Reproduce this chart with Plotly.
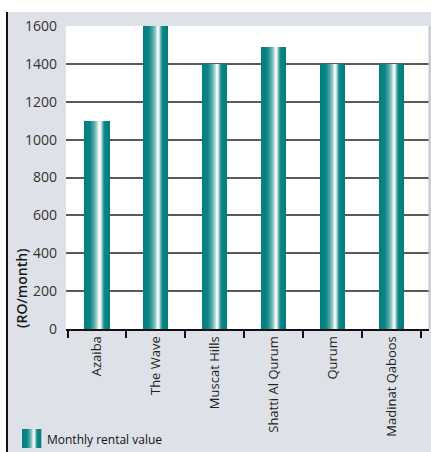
import numpy as np
import plotly.graph_objects as go

# Rental data
areas = ["Azaiba", "The Wave", "Muscat Hills", "Shatti Al Qurum", "Qurum", "Madinat Qaboos"]
rent = [1100, 1600, 1400, 1490, 1400, 1400]
y_ticks = [0, 200, 400, 600, 800, 1000, 1200, 1400, 1600]
series_name = "Monthly rental value"
y_title = "(RO/month)"

W, H = 431, 452
ML, MR, MT, MB = 66, 2, 26, 123
PW, PH = W - ML - MR, H - MT - MB

def px(x):
    return (x - ML) / PW

def py(y):
    return 1 - (y - MT) / PH

TEAL = np.array([0, 126, 126])
WHITE = np.array([255, 255, 255])
# cylinder shading: position across the bar -> amount of white highlight
prof_pos = [0.0, 0.25, 0.40, 0.52, 0.62, 0.68, 0.75, 0.82, 1.0]
prof_val = [0.0, 0.05, 0.30, 0.60, 1.00, 0.80, 0.30, 0.05, 0.0]

def shade(f):
    t = np.interp(f, prof_pos, prof_val)
    c = TEAL + (WHITE - TEAL) * t
    return "rgb(%d,%d,%d)" % tuple(np.round(c).astype(int))

N = 24
BW = 0.41
fig = go.Figure()
for i in range(N):
    f = (i + 0.5) / N
    fig.add_trace(go.Bar(
        x=areas, y=rent,
        width=BW / N * 1.15, offset=-BW / 2 + i * BW / N,
        marker=dict(color=shade(f), line=dict(width=0)),
        showlegend=False, hoverinfo="skip" if i else None,
        name=series_name,
    ))

shapes = [
    # grey panel behind the chart
    dict(type="rect", xref="paper", yref="paper", x0=px(6), x1=px(W + 2), y0=py(H + 2), y1=py(12),
         fillcolor="#dee2e8", line=dict(width=0), layer="below"),
    # white plotting area
    dict(type="rect", xref="paper", yref="paper", x0=0, x1=1, y0=0, y1=1,
         fillcolor="white", line=dict(width=0), layer="below"),
    # dark rule on the left
    dict(type="line", xref="paper", yref="paper", x0=px(7), x1=px(7), y0=py(H + 2), y1=py(12),
         line=dict(color="#111111", width=2)),
    # light rule on the right of the plot
    dict(type="line", xref="paper", yref="paper", x0=px(429.5), x1=px(429.5), y0=0, y1=1,
         line=dict(color="#c4c9cf", width=2)),
]

# legend swatch with the same shading
sx0, sx1, sy0, sy1 = 22, 41, 429, 448
M = 19
for i in range(M):
    f = (i + 0.5) / M
    a = sx0 + (sx1 - sx0) * i / M
    b = sx0 + (sx1 - sx0) * (i + 1) / M
    shapes.append(dict(type="rect", xref="paper", yref="paper", x0=px(a), x1=px(b + 0.3),
                       y0=py(sy1), y1=py(sy0), fillcolor=shade(f), line=dict(width=0)))

annotations = [
    dict(text=series_name, xref="paper", yref="paper", x=px(45), y=py(439),
         xanchor="left", yanchor="middle", showarrow=False,
         font=dict(family="Open Sans", size=12, color="#111111")),
    dict(text=y_title, xref="paper", yref="paper", x=px(21), y=py(288),
         xanchor="center", yanchor="middle", textangle=-90, showarrow=False,
         font=dict(family="Open Sans", size=14, color="#1a1a1a", weight=600)),
]

fig.update_layout(
    width=W, height=H,
    margin=dict(l=ML, r=MR, t=MT, b=MB, pad=0),
    paper_bgcolor="white", plot_bgcolor="rgba(0,0,0,0)",
    barmode="overlay", bargap=0,
    showlegend=False,
    shapes=shapes, annotations=annotations,
    font=dict(family="Open Sans", color="#222222"),
    xaxis=dict(
        type="category", range=[-0.526, 5.637],
        tickangle=-90, tickson="boundaries", ticks="outside", ticklen=7,
        tickcolor="#111111", tickwidth=2,
        showline=True, linecolor="#111111", linewidth=2,
        showgrid=False, tickfont=dict(size=13, color="#222222"),
    ),
    yaxis=dict(
        range=[0, 1600], tickvals=y_ticks, ticks="",
        showgrid=True, gridcolor="#5a5a5a", gridwidth=1.5,
        zeroline=False, showline=False,
        tickfont=dict(size=14, color="#333333"), ticklabelstandoff=8,
    ),
)

fig.write_html("out.html")
